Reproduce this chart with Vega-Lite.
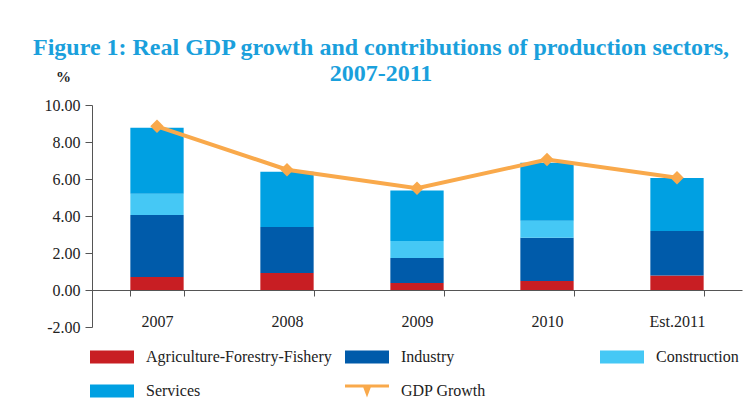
{
  "$schema": "https://vega.github.io/schema/vega-lite/v6.json",
  "autosize": {"type": "none"},
  "width": 650,
  "height": 222,
  "padding": {"left": 92, "top": 105, "right": 11, "bottom": 79},
  "background": "white",
  "config": {
    "view": {"stroke": null},
    "font": "Liberation Serif",
    "axisY": {
      "labelOverlap": false,
      "tickCount": 7,
      "labelExpr": "replace(format(datum.value, '.2f'), '\u2212', '-')",
      "grid": false,
      "tickSize": 7,
      "tickColor": "#555555",
      "domainColor": "#555555",
      "labelPadding": 5,
      "labelFont": "Liberation Serif",
      "labelFontSize": 16,
      "labelColor": "#222222",
      "titleAngle": 0,
      "titleX": -29,
      "titleY": -29,
      "titleAlign": "center",
      "titleBaseline": "middle",
      "titleFont": "Liberation Serif",
      "titleFontSize": 15,
      "titleFontWeight": "bold",
      "titleColor": "#222222"
    }
  },
  "title": {
    "text": ["Figure 1: Real GDP growth and contributions of production sectors,", "2007-2011"],
    "anchor": "middle",
    "dx": -36,
    "offset": -17,
    "font": "Liberation Serif",
    "fontSize": 24,
    "fontWeight": "bold",
    "color": "#1AA0DC",
    "lineHeight": 26
  },
  "datasets": {
    "sectors": [
      {"year": "2007", "sector": "Agriculture-Forestry-Fishery", "ord": 1, "value": 0.70},
      {"year": "2007", "sector": "Industry", "ord": 2, "value": 3.36},
      {"year": "2007", "sector": "Construction", "ord": 3, "value": 1.14},
      {"year": "2007", "sector": "Services", "ord": 4, "value": 3.57},
      {"year": "2008", "sector": "Agriculture-Forestry-Fishery", "ord": 1, "value": 0.92},
      {"year": "2008", "sector": "Industry", "ord": 2, "value": 2.49},
      {"year": "2008", "sector": "Construction", "ord": 3, "value": 0.0},
      {"year": "2008", "sector": "Services", "ord": 4, "value": 2.98},
      {"year": "2009", "sector": "Agriculture-Forestry-Fishery", "ord": 1, "value": 0.38},
      {"year": "2009", "sector": "Industry", "ord": 2, "value": 1.35},
      {"year": "2009", "sector": "Construction", "ord": 3, "value": 0.92},
      {"year": "2009", "sector": "Services", "ord": 4, "value": 2.73},
      {"year": "2010", "sector": "Agriculture-Forestry-Fishery", "ord": 1, "value": 0.49},
      {"year": "2010", "sector": "Industry", "ord": 2, "value": 2.34},
      {"year": "2010", "sector": "Construction", "ord": 3, "value": 0.92},
      {"year": "2010", "sector": "Services", "ord": 4, "value": 3.13},
      {"year": "Est.2011", "sector": "Agriculture-Forestry-Fishery", "ord": 1, "value": 0.78},
      {"year": "Est.2011", "sector": "Industry", "ord": 2, "value": 2.41},
      {"year": "Est.2011", "sector": "Construction", "ord": 3, "value": 0.0},
      {"year": "Est.2011", "sector": "Services", "ord": 4, "value": 2.87}
    ],
    "gdp": [
      {"year": "2007", "gdp": 8.85},
      {"year": "2008", "gdp": 6.5},
      {"year": "2009", "gdp": 5.5},
      {"year": "2010", "gdp": 7.05},
      {"year": "Est.2011", "gdp": 6.07}
    ]
  },
  "encoding": {
    "x": {
      "field": "year",
      "type": "nominal",
      "sort": null,
      "scale": {"paddingInner": 0.59, "paddingOuter": 0.295},
      "axis": {
        "title": null,
        "labelAngle": 0,
        "offset": -37,
        "tickBand": "extent",
        "tickSize": 6,
        "tickColor": "#555555",
        "domainColor": "#555555",
        "labelPadding": 17,
        "labelFont": "Liberation Serif",
        "labelFontSize": 16,
        "labelColor": "#222222"
      }
    }
  },
  "layer": [
    {
      "data": {"name": "sectors"},
      "mark": {"type": "bar"},
      "encoding": {
        "y": {
          "field": "value",
          "type": "quantitative",
          "stack": "zero",
          "scale": {"domain": [-2, 10], "nice": false},
          "axis": {"title": "%", "values": [-2, 0, 2, 4, 6, 8, 10]}
        },
        "color": {
          "field": "sector",
          "type": "nominal",
          "scale": {
            "domain": ["Agriculture-Forestry-Fishery", "Industry", "Construction", "Services", "GDP Growth"],
            "range": ["#C81E23", "#005BAA", "#45C8F5", "#00A0E2", "#F9A94B"]
          },
          "legend": {
            "title": null,
            "orient": "none",
            "legendX": -2,
            "legendY": 230,
            "direction": "horizontal",
            "columns": 3,
            "gridAlign": "all",
            "columnPadding": 13,
            "rowPadding": 4,
            "symbolType": "M-1,-0.3H1V0.3H-1Z",
            "symbolSize": 1936,
            "symbolStrokeWidth": 0,
            "symbolOpacity": 1,
            "labelOffset": 12,
            "labelFont": "Liberation Serif",
            "labelFontSize": 16,
            "labelColor": "#222222",
            "labelLimit": 400,
            "encode": {
              "symbols": {
                "update": {
                  "shape": {"signal": "datum.label === 'GDP Growth' ? 'M-1,-0.3H1V-0.16H-1Z M-0.22,-0.3L0.22,-0.3L0,0.3Z' : 'M-1,-0.3H1V0.3H-1Z'"}
                }
              }
            }
          }
        },
        "order": {"field": "ord", "type": "quantitative"}
      }
    },
    {
      "data": {"name": "gdp"},
      "mark": {"type": "line", "color": "#F9A94B", "strokeWidth": 4},
      "encoding": {
        "y": {"field": "gdp", "type": "quantitative", "axis": {"title": "%", "values": [-2, 0, 2, 4, 6, 8, 10]}}
      }
    },
    {
      "data": {"name": "gdp"},
      "mark": {"type": "point", "shape": "diamond", "filled": true, "color": "#F9A94B", "opacity": 1, "size": 180},
      "encoding": {
        "y": {"field": "gdp", "type": "quantitative", "axis": {"title": "%", "values": [-2, 0, 2, 4, 6, 8, 10]}}
      }
    }
  ]
}
